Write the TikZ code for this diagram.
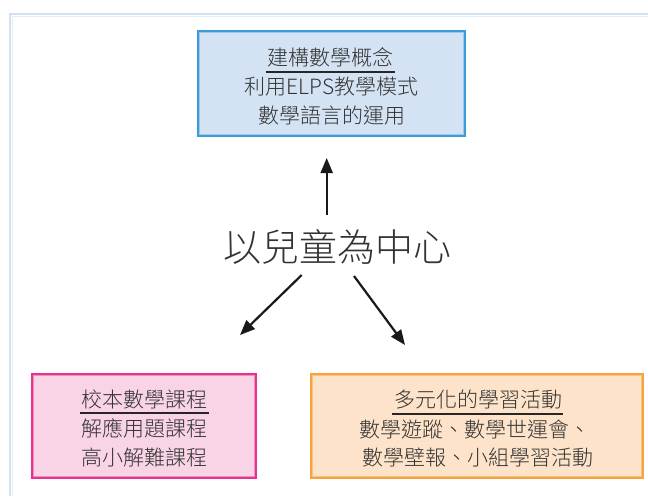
\documentclass[tikz,border=0pt]{standalone}
\usepackage{fontspec}
\newfontfamily\cjk{Noto Sans CJK TC}[UprightFont=* Light]
\usetikzlibrary{arrows.meta}
\definecolor{framec}{HTML}{CFE1F3}
\definecolor{bluefill}{HTML}{D3E3F3}
\definecolor{blueline}{HTML}{3D9BDA}
\definecolor{bluein}{HTML}{9CC8EC}
\definecolor{pinkfill}{HTML}{F9D3E6}
\definecolor{pinkline}{HTML}{E6338F}
\definecolor{pinkin}{HTML}{F08DBF}
\definecolor{orfill}{HTML}{FDE3C9}
\definecolor{orline}{HTML}{F7A23F}
\definecolor{orin}{HTML}{F9C27F}
\definecolor{txt}{HTML}{333333}
\tikzset{
  box/.style={draw=#1, line width=1.4pt, rectangle, inner sep=0pt},
  inbox/.style={draw=#1, line width=0.6pt},
  line/.style={font=\cjk\fontsize{21}{21}\selectfont, text=txt, inner sep=0pt, anchor=center},
  uline/.style={draw=black!85, line width=1.6pt},
  arr/.style={draw=black!90, line width=2.2pt, -{Triangle[length=15pt,width=12pt]}}
}
\begin{document}
\begin{tikzpicture}[x=1pt,y=-1pt]
\useasboundingbox (0,0) rectangle (648,496);
% frame
\draw[framec, line width=1.6pt] (648,14) -- (10,14) -- (10,496);
\draw[framec!60, line width=0.8pt] (648,16.5) -- (12.5,16.5) -- (12.5,496);
% top box
\node[box=blueline, fill=bluefill, minimum width=267pt, minimum height=105pt] (top) at (331.5,83.5) {};
\draw[inbox=bluein] ([shift={(2.2pt,-2.2pt)}]top.north west) rectangle ([shift={(-2.2pt,2.2pt)}]top.south east);
\node[line] (ta) at (330.5,57.5) {建構數學概念};
\node[line] (tb) at (331.5,87) {利用ELPS教學模式};
\node[line] (tc) at (331.5,115) {數學語言的運用};
\draw[uline] ([xshift=-1.5pt]ta.west |- 0,72) -- ([xshift=1.5pt]ta.east |- 0,72);
% left box
\node[box=pinkline, fill=pinkfill, minimum width=224pt, minimum height=104pt] (lft) at (144,426) {};
\draw[inbox=pinkin] ([shift={(2.2pt,-2.2pt)}]lft.north west) rectangle ([shift={(-2.2pt,2.2pt)}]lft.south east);
\node[line] (la) at (144,399) {校本數學課程};
\node[line] (lb) at (144,428.5) {解應用題課程};
\node[line] (lc) at (144,457) {高小解難課程};
\draw[uline] ([xshift=-1pt]la.west |- 0,413) -- ([xshift=2pt]la.east |- 0,413);
% right box
\node[box=orline, fill=orfill, minimum width=332pt, minimum height=104pt] (rgt) at (477,426) {};
\draw[inbox=orin] ([shift={(2.2pt,-2.2pt)}]rgt.north west) rectangle ([shift={(-2.2pt,2.2pt)}]rgt.south east);
\node[line] (ra) at (478,399) {多元化的學習活動};
\node[line] (rb) at (475,430) {數學遊蹤、數學世運會、};
\node[line] (rc) at (478,458) {數學壁報、小組學習活動};
\draw[uline] ([xshift=-2pt]ra.west |- 0,414) -- ([xshift=1pt]ra.east |- 0,414);
% center
\node[font=\cjk\fontsize{38}{38}\selectfont, text=txt, inner sep=0pt] (ctr) at (337,246.5) {以兒童為中心};
\coordinate (s1) at (326.7,215);
\coordinate (e1) at (326.7,158);
\coordinate (s2) at (301.7,275);
\coordinate (e2) at (240,335);
\coordinate (s3) at (354,276);
\coordinate (e3) at (405,345);
\draw[arr] (s1) -- (e1);
\draw[arr] (s2) -- (e2);
\draw[arr] (s3) -- (e3);
\end{tikzpicture}
\end{document}
